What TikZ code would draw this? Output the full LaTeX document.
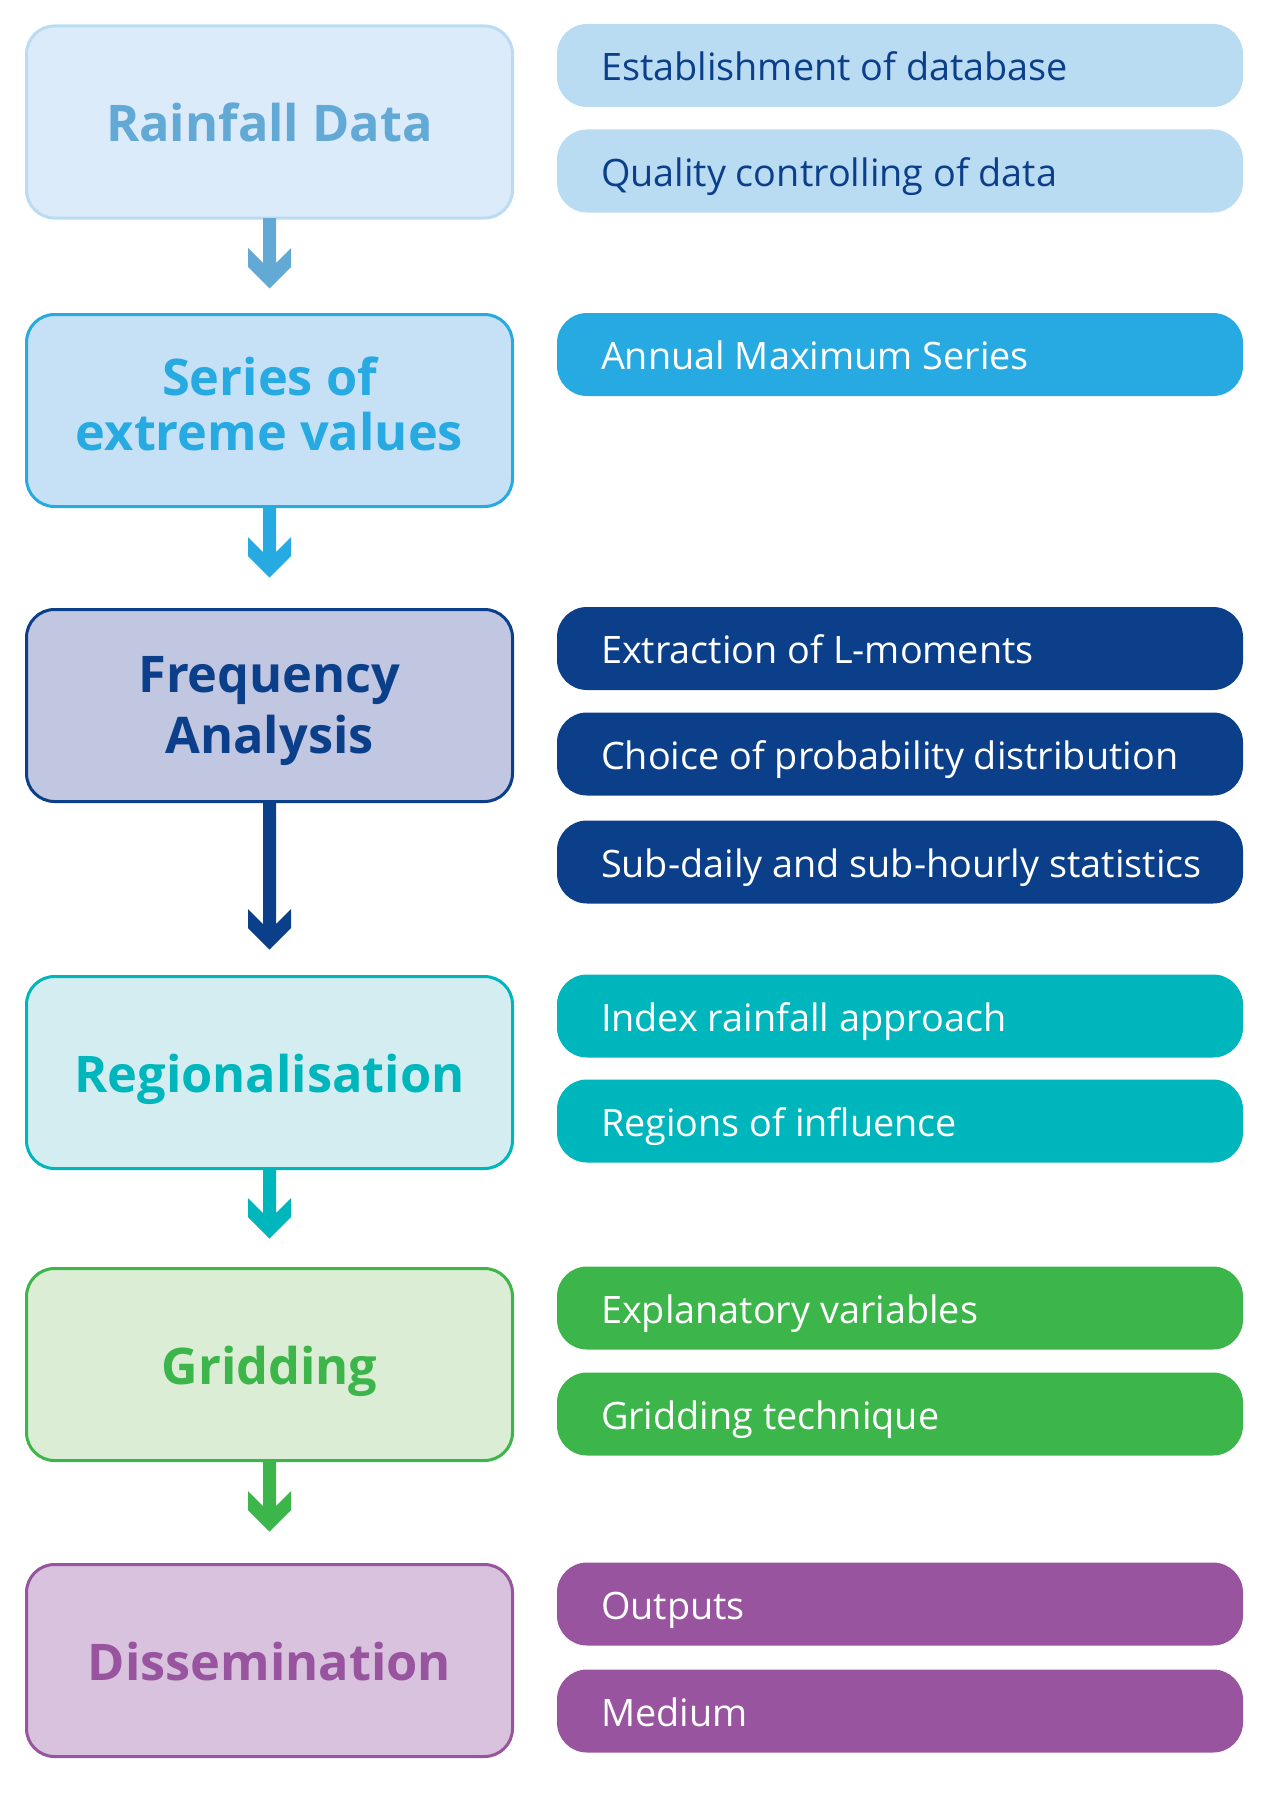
\documentclass[tikz,border=0pt]{standalone}
\usepackage{fontspec}
\setmainfont{Open Sans}
\usetikzlibrary{calc}

\definecolor{rainLine}{HTML}{B9DBF3}
\definecolor{rainFill}{HTML}{DCEBF9}
\definecolor{rainText}{HTML}{62A9D6}
\definecolor{rainPill}{HTML}{BADCF3}
\definecolor{rainPillText}{HTML}{0B3F8A}
\definecolor{seriesFill}{HTML}{C6E1F5}
\definecolor{seriesMain}{HTML}{27AAE1}
\definecolor{freqFill}{HTML}{C1C6E1}
\definecolor{freqMain}{HTML}{0B3F8A}
\definecolor{regionFill}{HTML}{D4EDF0}
\definecolor{regionMain}{HTML}{00B6BD}
\definecolor{gridFill}{HTML}{DBEDD5}
\definecolor{gridMain}{HTML}{3CB54A}
\definecolor{dissFill}{HTML}{D8C2DD}
\definecolor{dissMain}{HTML}{98549F}

% two lines of a stage title, baseline on the last line
\newcommand\twolines[2]{\begin{tabular}[b]{@{}c@{}}#1\\#2\end{tabular}}
% task text, left aligned in a fixed width
\newcommand\task[1]{\makebox[598pt][l]{#1}}

% chevron arrow: from node, to node, colour, gap above the target
\newcommand\flowarrow[4]{%
  \coordinate (tip) at ($(#2.north)+(0,#4)$);
  \fill[#3] ($(#1.south)+(-6.5,0)$) -- ($(tip)+(-6.5,25.5)$) -- ($(tip)+(-21.5,40.5)$)
    -- ($(tip)+(-21.5,21.5)$) -- (tip) -- ($(tip)+(21.5,21.5)$) -- ($(tip)+(21.5,40.5)$)
    -- ($(tip)+(6.5,25.5)$) -- ($(#1.south)+(6.5,0)$) -- cycle;
}

\begin{document}
\begin{tikzpicture}[x=1pt,y=1pt,
    stage/.style={draw, line width=3pt, rounded corners=28pt, minimum width=486pt,
      minimum height=192pt, inner sep=0pt, outer sep=0pt, text height=40pt, text depth=0pt,
      font=\fontsize{50.5}{55}\selectfont\bfseries},
    pill/.style={rounded corners=30pt, minimum height=83pt, inner xsep=44pt, inner ysep=0pt,
      outer sep=0pt, text=white, text height=30pt, text depth=0pt,
      font=\fontsize{37.8}{40}\selectfont}]
  \useasboundingbox (0,0) rectangle (1264,-1798);

  % Stage boxes
  \node[stage, draw=rainLine, fill=rainFill, text=rainText] (rain) at (269.5,-122) {Rainfall Data};
  \node[stage, draw=seriesMain, fill=seriesFill, text=seriesMain, text height=79pt] (series) at (269.5,-410.5) {\twolines{Series of}{extreme values}};
  \node[stage, draw=freqMain, fill=freqFill, text=freqMain, text height=96pt,
    font=\fontsize{50.5}{61}\selectfont\bfseries] (freq) at (269.5,-705.5) {\twolines{Frequency}{Analysis}};
  \node[stage, draw=regionMain, fill=regionFill, text=regionMain] (region) at (269.5,-1072.5) {Regionalisation};
  \node[stage, draw=gridMain, fill=gridFill, text=gridMain] (grid) at (269.5,-1364.5) {Gridding};
  \node[stage, draw=dissMain, fill=dissFill, text=dissMain] (diss) at (269.5,-1660.5) {Dissemination};

  % Task pills
  \node[pill, fill=rainPill, text=rainPillText] (database) at (900,-65.5) {\task{Establishment of database}};
  \node[pill, fill=rainPill, text=rainPillText] (quality) at (900,-171) {\task{Quality controlling of data}};
  \node[pill, fill=seriesMain] (annual) at (900,-354.5) {\task{Annual Maximum Series}};
  \node[pill, fill=freqMain] (lmoments) at (900,-648.5) {\task{Extraction of L-moments}};
  \node[pill, fill=freqMain] (choice) at (900,-754) {\task{Choice of probability distribution}};
  \node[pill, fill=freqMain] (subdaily) at (900,-862) {\task{Sub-daily and sub-hourly statistics}};
  \node[pill, fill=regionMain] (index) at (900,-1016) {\task{Index rainfall approach}};
  \node[pill, fill=regionMain] (influence) at (900,-1121) {\task{Regions of influence}};
  \node[pill, fill=gridMain] (explanatory) at (900,-1308) {\task{Explanatory variables}};
  \node[pill, fill=gridMain] (technique) at (900,-1414) {\task{Gridding technique}};
  \node[pill, fill=dissMain] (outputs) at (900,-1604) {\task{Outputs}};
  \node[pill, fill=dissMain] (medium) at (900,-1711) {\task{Medium}};

  % Arrows
  \flowarrow{rain}{series}{rainText}{26}
  \flowarrow{series}{freq}{seriesMain}{32}
  \flowarrow{freq}{region}{freqMain}{27}
  \flowarrow{region}{grid}{regionMain}{30}
  \flowarrow{grid}{diss}{gridMain}{33}
\end{tikzpicture}
\end{document}
